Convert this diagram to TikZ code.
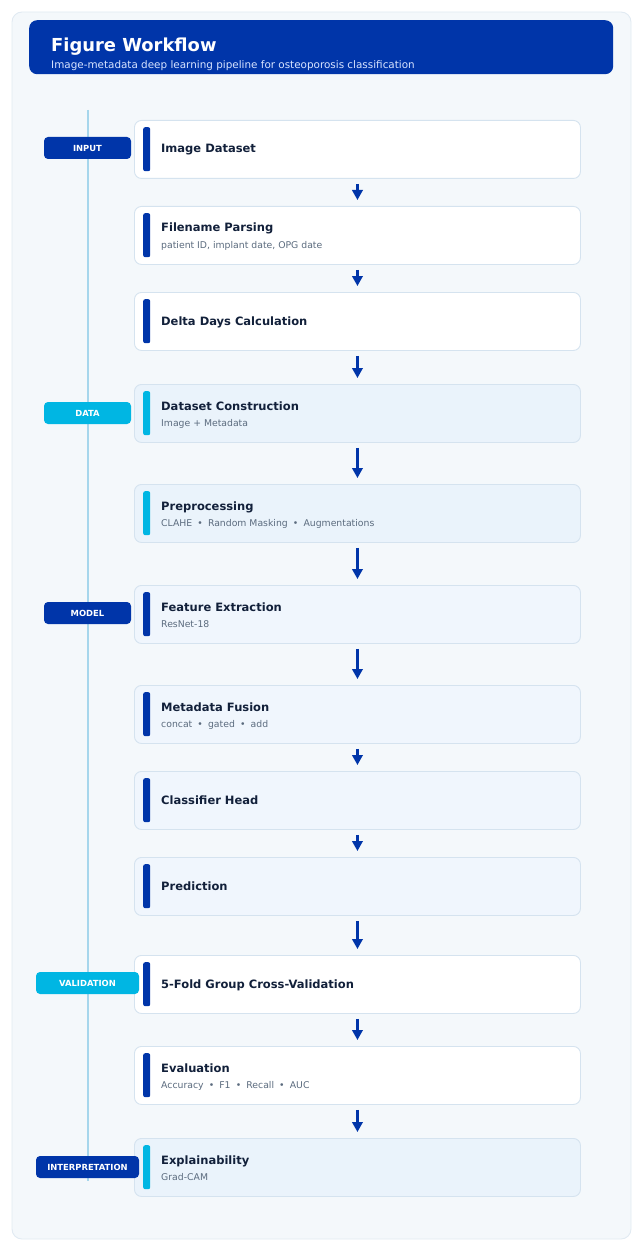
\documentclass[tikz,border=0pt]{standalone}
\usepackage{fontspec}
\setmainfont{DejaVu Sans}
\usetikzlibrary{arrows.meta}
\definecolor{navy}{HTML}{0035A9}
\definecolor{cyanacc}{HTML}{00B6E3}
\definecolor{panelbg}{HTML}{F4F8FB}
\definecolor{panelbd}{HTML}{E1EAF2}
\definecolor{boxbd}{HTML}{D5E3EF}
\definecolor{databg}{HTML}{EAF3FB}
\definecolor{modelbg}{HTML}{F0F6FD}
\definecolor{titletxt}{HTML}{12203A}
\definecolor{subtxt}{HTML}{5B6B7E}
\definecolor{timeline}{HTML}{A6D6EC}
\definecolor{hdrsub}{HTML}{D8E4FF}
\tikzset{
  x=1pt,y=-1pt,
  stepbox/.style={draw=boxbd,line width=0.9pt,rounded corners=7pt,minimum width=446pt,minimum height=58pt,anchor=north west,inner sep=0pt},
  accbar/.style={rounded corners=2pt,minimum width=7pt,minimum height=44pt,inner sep=0pt,anchor=north west},
  ttl/.style={anchor=base west,font=\bfseries\fontsize{11.5}{13}\selectfont,text=titletxt,inner sep=0pt},
  sub/.style={anchor=base west,font=\fontsize{9.3}{11}\selectfont,text=subtxt,inner sep=0pt},
  tag/.style={rounded corners=4pt,minimum height=22pt,inner sep=0pt,text=white,font=\bfseries\fontsize{8.4}{9}\selectfont},
  arr/.style={draw=navy,line width=2.2pt,-{Triangle[length=10pt,width=10.5pt]},shorten <=5pt,shorten >=6pt}
}
\newcommand{\sep}{\hspace{0.55em}\textbullet\hspace{0.55em}}
\begin{document}
\begin{tikzpicture}
\useasboundingbox (0,0) rectangle (642,1249);
% panel
\draw[fill=panelbg,draw=panelbd,line width=0.9pt,rounded corners=10pt] (12,12) rectangle (631,1239);
% header
\node[fill=navy,rounded corners=8pt,minimum width=584pt,minimum height=54pt,anchor=north west,inner sep=0pt] (hdr) at (29,20) {};
\node[anchor=base west,inner sep=0pt,text=white,font=\bfseries\fontsize{17.9}{20}\selectfont] (htitle) at (51,52) {Figure Workflow};
\node[anchor=base west,inner sep=0pt,text=hdrsub,font=\fontsize{10.4}{12}\selectfont] (hsub) at (51,68.5) {Image-metadata deep learning pipeline for osteoporosis classification};
% timeline
\coordinate (tltop) at (88,110);
\coordinate (tlbot) at (88,1181);
\draw[timeline,line width=1.8pt] (tltop) -- (tlbot);
% boxes
\node[stepbox,fill=white] (b1) at (134,120) {};
\node[stepbox,fill=white] (b2) at (134,206) {};
\node[stepbox,fill=white] (b3) at (134,292) {};
\node[stepbox,fill=databg] (b4) at (134,384) {};
\node[stepbox,fill=databg] (b5) at (134,484) {};
\node[stepbox,fill=modelbg] (b6) at (134,585) {};
\node[stepbox,fill=modelbg] (b7) at (134,685) {};
\node[stepbox,fill=modelbg] (b8) at (134,771) {};
\node[stepbox,fill=modelbg] (b9) at (134,857) {};
\node[stepbox,fill=white] (b10) at (134,955) {};
\node[stepbox,fill=white] (b11) at (134,1046) {};
\node[stepbox,fill=databg] (b12) at (134,1138) {};
% accent bars
\node[accbar,fill=navy] (a1) at (143,127) {};
\node[accbar,fill=navy] (a2) at (143,213) {};
\node[accbar,fill=navy] (a3) at (143,299) {};
\node[accbar,fill=cyanacc] (a4) at (143,391) {};
\node[accbar,fill=cyanacc] (a5) at (143,491) {};
\node[accbar,fill=navy] (a6) at (143,592) {};
\node[accbar,fill=navy] (a7) at (143,692) {};
\node[accbar,fill=navy] (a8) at (143,778) {};
\node[accbar,fill=navy] (a9) at (143,864) {};
\node[accbar,fill=navy] (a10) at (143,962) {};
\node[accbar,fill=navy] (a11) at (143,1053) {};
\node[accbar,fill=cyanacc] (a12) at (143,1145) {};
% texts
\node[ttl] (t1) at (161,153) {Image Dataset};
\node[ttl] (t2) at (161,232) {Filename Parsing};
\node[sub] (s2) at (161,248) {patient ID, implant date, OPG date};
\node[ttl] (t3) at (161,325) {Delta Days Calculation};
\node[ttl] (t4) at (161,410) {Dataset Construction};
\node[sub] (s4) at (161,426) {Image + Metadata};
\node[ttl] (t5) at (161,510) {Preprocessing};
\node[sub] (s5) at (161,526) {CLAHE\sep Random Masking\sep Augmentations};
\node[ttl] (t6) at (161,611) {Feature Extraction};
\node[sub] (s6) at (161,627) {ResNet-18};
\node[ttl] (t7) at (161,711) {Metadata Fusion};
\node[sub] (s7) at (161,727) {concat\sep gated\sep add};
\node[ttl] (t8) at (161,804) {Classifier Head};
\node[ttl] (t9) at (161,890) {Prediction};
\node[ttl] (t10) at (161,988) {5-Fold Group Cross-Validation};
\node[ttl] (t11) at (161,1072) {Evaluation};
\node[sub] (s11) at (161,1088) {Accuracy\sep F1\sep Recall\sep AUC};
\node[ttl] (t12) at (161,1164) {Explainability};
\node[sub] (s12) at (161,1180) {Grad-CAM};
% tags
\node[tag,fill=navy,minimum width=87pt] (g1) at (87.5,148) {INPUT};
\node[tag,fill=cyanacc,minimum width=87pt] (g2) at (87.5,413) {DATA};
\node[tag,fill=navy,minimum width=87pt] (g3) at (87.5,613) {MODEL};
\node[tag,fill=cyanacc,minimum width=103pt] (g4) at (87.5,983) {VALIDATION};
\node[tag,fill=navy,minimum width=103pt] (g5) at (87.5,1167) {INTERPRETATION};
% arrows
\foreach \i/\j in {1/2,2/3,3/4,4/5,5/6,6/7,7/8,8/9,9/10,10/11,11/12}
  \draw[arr] (b\i.south) -- (b\j.north);
\end{tikzpicture}
\end{document}
